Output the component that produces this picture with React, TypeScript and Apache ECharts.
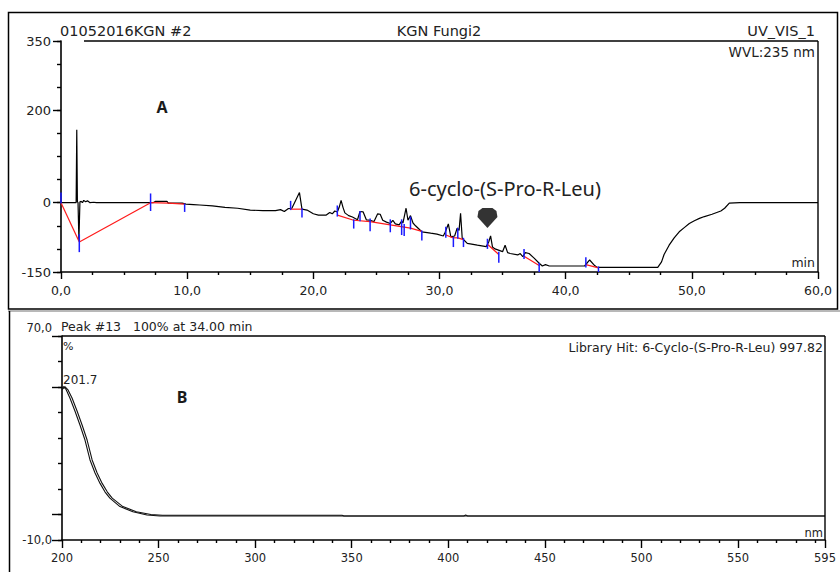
import React, { useEffect, useRef } from 'react';
import * as echarts from 'echarts';

// ---- Panel A: chromatogram (time in min, signal in mAU) ----
const chromatogram: [number, number][] = [
  [0, 0], [1.2, 0], [1.25, 158], [1.3, 2], [1.35, 0], [1.42, -82], [1.5, 2], [1.6, 3], [1.7, 0],
  [1.8, 5], [1.95, 2], [2.1, 4], [2.3, 0], [2.6, 1], [2.8, 0], [7.3, 0], [7.5, 3], [8.4, 3],
  [8.5, -1], [9.6, -1], [9.9, -3], [10.5, -4], [11, -5], [12, -7], [13, -10], [14, -12],
  [15, -16], [16, -17], [17, -17], [17.4, -15], [17.7, -19], [18.0, -13], [18.3, -12],
  [18.9, 22], [19.1, -14], [19.5, -16], [20, -24], [20.4, -27], [21, -27], [21.3, -21],
  [21.5, -24], [21.7, -18], [21.9, -20], [22.05, -10], [22.2, 5], [22.35, -10], [22.5, -22],
  [22.8, -28], [23.1, -31], [23.5, -37], [23.7, -19], [23.95, -20], [24.2, -37], [24.5, -38],
  [24.8, -41], [25.1, -24], [25.3, -25], [25.5, -38], [25.8, -42], [26.1, -45], [26.3, -38],
  [26.5, -46], [26.8, -48], [27.0, -40], [27.1, -44], [27.35, -12], [27.5, -38], [27.7, -28],
  [27.9, -44], [28.1, -50], [28.6, -63], [29.3, -66], [29.8, -68], [30.3, -72], [30.45, -64],
  [30.7, -46], [30.9, -74], [31.2, -72], [31.4, -55], [31.55, -60], [31.67, -23], [31.8, -77],
  [32.2, -88], [33, -92], [33.7, -95], [33.9, -85], [34.05, -72], [34.2, -96], [34.4, -100],
  [35.0, -106], [35.2, -92], [35.4, -108], [35.6, -110], [36.2, -113], [36.4, -110],
  [36.6, -117], [36.8, -108], [37.1, -110], [37.5, -120], [37.9, -131], [38.15, -137],
  [38.4, -134], [38.7, -137], [41.5, -137], [41.9, -124], [42.3, -136], [42.5, -140],
  [47.3, -140], [47.6, -128], [47.8, -112], [48.2, -92], [48.6, -76], [49.0, -63], [49.4, -54],
  [49.8, -45], [50.2, -39], [50.6, -34], [51.0, -30], [51.6, -25], [52.3, -18], [52.6, -12],
  [52.97, -1], [53.8, 0], [60, 0],
];

// integration baselines (red), as polylines of [time, value]
const baselines: [number, number][][] = [
  [[0, 0], [1.45, -85], [7.1, 0]],
  [[7.1, 0], [8.5, -1], [9.8, -3]],
  [[18.2, -14], [19.1, -14]],
  [[21.9, -27], [23.2, -38], [24.5, -41], [26.1, -48], [27.7, -55], [28.6, -62]],
  [[30.5, -70], [31.1, -76], [31.45, -76], [31.9, -80]],
  [[33.8, -90], [34.7, -112]],
  [[36.7, -116], [37.9, -136]],
  [[41.6, -134], [42.6, -141]],
];

// peak start / end delimiters (blue): [time, low, high]
const peakMarks: [number, number, number][] = [
  [0, -2, 22], [1.45, -107, -68], [7.1, -18, 20], [9.8, -20, -2], [18.2, -16, 4],
  [19.1, -32, -12], [21.9, -30, -6], [23.2, -56, -36], [23.7, -40, -18], [24.5, -62, -34],
  [26.1, -64, -36], [27.0, -70, -36], [27.2, -72, -46], [27.7, -58, -30], [28.6, -82, -60],
  [30.5, -76, -52], [31.1, -96, -74], [31.45, -78, -54], [31.9, -96, -76], [33.8, -100, -78],
  [34.7, -130, -106], [36.7, -122, -100], [37.9, -150, -130], [41.6, -140, -118],
  [42.6, -150, -138],
];

const identifiedPeak: [number, number][] = [[33.8, -33]];

const signalLabelTicks = [-150, 0, 200, 350];

// ---- Panel B: UV spectrum (nm, %) ----
const spectrumMeasured: [number, number][] = [
  [200, 49.5], [200.8, 50.1], [202, 49.2], [204.1, 45.7], [206.7, 40.6], [209.3, 35.1],
  [211.9, 29.2], [214.5, 21.4], [217.1, 16.3], [219.7, 12.2], [222.3, 8.8], [224.8, 6.4],
  [230, 3.1], [236.7, 1.1], [244, -0.2], [250.7, -0.6], [300, -0.6], [408, -0.6],
  [409, -0.2], [410, -0.6], [595, -0.6],
];
const spectrumLibrary: [number, number][] = [
  [200, 49], [201.5, 50.1], [203, 49], [205.2, 45.7], [207.8, 40.6], [210.4, 35.1],
  [213, 29.2], [215.6, 21.4], [218.2, 16.3], [220.8, 12.2], [223.5, 8.8], [226, 6.4],
  [231.5, 3.1], [238.5, 1.1], [246, 0], [252, -0.3], [345, -0.3], [346, -0.6], [595, -0.6],
];

const nmMajor = [200, 250, 300, 350, 400, 450, 500, 550, 595];
const nmMinor = [210, 220, 230, 240, 260, 270, 280, 290, 310, 320, 330, 340, 360, 370, 380, 390,
  410, 420, 430, 440, 460, 470, 480, 490, 510, 520, 530, 540, 560, 570, 580, 590];
const pctMajorTicks = [-10, 0, 50, 70];
const pctLabels = [-10, 70];

const FONT = 'DejaVu Sans';
const TXT = '#222';

export default function App() {
  const ref = useRef<HTMLDivElement>(null);
  useEffect(() => {
    if (!ref.current) return;
    const chart = echarts.init(ref.current, null, { renderer: 'svg' });

    const segs: number[][] = [];
    baselines.forEach((pl) => {
      for (let i = 0; i < pl.length - 1; i++) segs.push([pl[i][0], pl[i][1], pl[i + 1][0], pl[i + 1][1]]);
    });

    const axisLineStyle = { color: '#000', width: 1.6 };
    const tickStyle = { color: '#000', width: 1.4 };
    const labelBase = { color: TXT, fontFamily: FONT };

    const option: any = {
      animation: false,
      backgroundColor: '#fff',
      grid: [
        { left: 61, top: 41, width: 757, height: 231 },
        { left: 62, top: 336, width: 763, height: 204 },
      ],
      xAxis: [
        {
          type: 'value', gridIndex: 0, min: 0, max: 60, interval: 10, position: 'bottom',
          axisLine: { show: true, onZero: false, lineStyle: axisLineStyle },
          axisTick: { show: true, length: 7, lineStyle: tickStyle },
          minorTick: { show: true, splitNumber: 4, length: 3, lineStyle: tickStyle },
          axisLabel: { ...labelBase, fontSize: 12.5, margin: 12, formatter: (v: number) => v.toFixed(1).replace('.', ',') },
          splitLine: { show: false },
        },
        {
          type: 'value', gridIndex: 1, min: 200, max: 595, position: 'bottom',
          axisLine: { show: true, onZero: false, lineStyle: axisLineStyle },
          axisTick: { show: true, length: 8, customValues: nmMajor, lineStyle: tickStyle },
          axisLabel: { ...labelBase, fontSize: 11.5, margin: 12, customValues: nmMajor, showMaxLabel: true },
          splitLine: { show: false },
        },
        {
          type: 'value', gridIndex: 1, min: 200, max: 595, position: 'bottom',
          axisLine: { show: false, onZero: false },
          axisTick: { show: true, length: 3, customValues: nmMinor, lineStyle: tickStyle },
          axisLabel: { show: false },
          splitLine: { show: false },
        },
      ],
      yAxis: [
        {
          type: 'value', gridIndex: 0, min: -150, max: 350, position: 'left',
          axisLine: { show: true, onZero: false, lineStyle: axisLineStyle },
          axisTick: { show: true, length: 8, customValues: signalLabelTicks, lineStyle: tickStyle },
          axisLabel: { ...labelBase, fontSize: 13, margin: 10, customValues: signalLabelTicks },
          splitLine: { show: false },
        },
        {
          type: 'value', gridIndex: 0, min: -150, max: 350, interval: 50, position: 'left',
          axisLine: { show: false, onZero: false },
          axisTick: { show: true, length: 4, lineStyle: tickStyle },
          axisLabel: { show: false },
          splitLine: { show: false },
        },
        {
          type: 'value', gridIndex: 1, min: -10, max: 70, position: 'left',
          axisLine: { show: true, onZero: false, lineStyle: axisLineStyle },
          axisTick: { show: true, length: 10, customValues: pctMajorTicks, lineStyle: tickStyle },
          axisLabel: {
            ...labelBase, fontSize: 11.5, margin: 10, customValues: pctLabels,
            formatter: (v: number) => (v === 70 ? '{up|70,0}' : v.toFixed(1).replace('.', ',')),
            rich: { up: { fontSize: 11.5, fontFamily: FONT, color: TXT, padding: [0, 0, 16, 0] } },
          },
          splitLine: { show: false },
        },
        {
          type: 'value', gridIndex: 1, min: -10, max: 70, interval: 10, position: 'left',
          axisLine: { show: false, onZero: false },
          axisTick: { show: true, length: 4, lineStyle: tickStyle },
          axisLabel: { show: false },
          splitLine: { show: false },
        },
      ],
      series: [
        {
          type: 'line', xAxisIndex: 0, yAxisIndex: 0, data: chromatogram, showSymbol: false,
          lineStyle: { color: '#000', width: 1.2 }, z: 3, silent: true,
        },
        {
          type: 'custom', xAxisIndex: 0, yAxisIndex: 0, data: segs, z: 4, silent: true,
          encode: { x: [0, 2], y: [1, 3] },
          renderItem: (_p: any, api: any) => {
            const a = api.coord([api.value(0), api.value(1)]);
            const b = api.coord([api.value(2), api.value(3)]);
            return { type: 'line', shape: { x1: a[0], y1: a[1], x2: b[0], y2: b[1] }, style: { stroke: '#ff1a1a', lineWidth: 1.2 } };
          },
        },
        {
          type: 'custom', xAxisIndex: 0, yAxisIndex: 0, data: peakMarks, z: 5, silent: true,
          encode: { x: 0, y: [1, 2] },
          renderItem: (_p: any, api: any) => {
            const a = api.coord([api.value(0), api.value(1)]);
            const b = api.coord([api.value(0), api.value(2)]);
            return { type: 'line', shape: { x1: a[0], y1: a[1], x2: b[0], y2: b[1] }, style: { stroke: '#1a1aff', lineWidth: 1.5 } };
          },
        },
        {
          type: 'scatter', xAxisIndex: 0, yAxisIndex: 0, data: identifiedPeak, z: 6, silent: true,
          symbol: 'path://M-5,-10L5,-10L9,-7L10,-1L0,10L-10,-1L-9,-7Z',
          symbolSize: [20, 20], itemStyle: { color: '#000' },
        },
        {
          type: 'line', xAxisIndex: 1, yAxisIndex: 2, data: spectrumMeasured, showSymbol: false,
          lineStyle: { color: '#111', width: 1.1 }, z: 3, silent: true,
        },
        {
          type: 'line', xAxisIndex: 1, yAxisIndex: 2, data: spectrumLibrary, showSymbol: false,
          lineStyle: { color: '#111', width: 1.1 }, z: 3, silent: true,
        },
      ],
      graphic: [
        // panel borders
        { type: 'rect', shape: { x: 8.5, y: 12.5, width: 829, height: 296.5 }, style: { fill: 'none', stroke: '#000', lineWidth: 1.5 }, z: 10 },
        { type: 'line', shape: { x1: 8, y1: 311, x2: 840, y2: 311 }, style: { stroke: '#a0a0a0', lineWidth: 1.5 }, z: 10 },
        { type: 'line', shape: { x1: 9.5, y1: 311, x2: 9.5, y2: 572 }, style: { stroke: '#000', lineWidth: 1.5 }, z: 10 },
        // plot frames
        { type: 'line', shape: { x1: 84, y1: 41, x2: 818, y2: 41 }, style: { stroke: '#000', lineWidth: 1.4 }, z: 10 },
        { type: 'line', shape: { x1: 818, y1: 41, x2: 818, y2: 272 }, style: { stroke: '#000', lineWidth: 1.4 }, z: 10 },
        { type: 'line', shape: { x1: 62, y1: 336, x2: 825, y2: 336 }, style: { stroke: '#000', lineWidth: 1.4 }, z: 10 },
        { type: 'line', shape: { x1: 825, y1: 336, x2: 825, y2: 540 }, style: { stroke: '#000', lineWidth: 1.4 }, z: 10 },
        // headers panel A
        { type: 'text', x: 60, y: 31, z: 10, style: { text: '01052016KGN #2', fontSize: 14.5, fontFamily: FONT, fill: TXT, align: 'left', verticalAlign: 'middle' } },
        { type: 'text', x: 439, y: 31, z: 10, style: { text: 'KGN Fungi2', fontSize: 14.5, fontFamily: FONT, fill: TXT, align: 'center', verticalAlign: 'middle' } },
        { type: 'text', x: 815, y: 31, z: 10, style: { text: 'UV_VIS_1', fontSize: 14.5, fontFamily: FONT, fill: TXT, align: 'right', verticalAlign: 'middle' } },
        { type: 'text', x: 815, y: 52, z: 10, style: { text: 'WVL:235 nm', fontSize: 13.5, fontFamily: FONT, fill: TXT, align: 'right', verticalAlign: 'middle' } },
        { type: 'text', x: 815, y: 262, z: 10, style: { text: 'min', fontSize: 12.5, fontFamily: FONT, fill: TXT, align: 'right', verticalAlign: 'middle' } },
        { type: 'text', x: 162, y: 107, z: 10, style: { text: 'A', fontSize: 16, fontWeight: 'bold', fontFamily: 'Noto Sans', fill: '#1a1a1a', align: 'center', verticalAlign: 'middle' } },
        { type: 'text', x: 505, y: 188, z: 10, style: { text: '6-cyclo-(S-Pro-R-Leu)', fontSize: 20, fontFamily: 'Noto Sans', fill: '#222', align: 'center', verticalAlign: 'middle' } },
        // headers panel B
        { type: 'text', x: 61, y: 326, z: 10, style: { text: 'Peak #13   100% at 34.00 min', fontSize: 12.5, fontFamily: FONT, fill: TXT, align: 'left', verticalAlign: 'middle' } },
        { type: 'text', x: 823, y: 347, z: 10, style: { text: 'Library Hit: 6-Cyclo-(S-Pro-R-Leu) 997.82', fontSize: 12.5, fontFamily: FONT, fill: TXT, align: 'right', verticalAlign: 'middle' } },
        { type: 'text', x: 63, y: 346, z: 10, style: { text: '%', fontSize: 11, fontFamily: FONT, fill: TXT, align: 'left', verticalAlign: 'middle' } },
        { type: 'text', x: 63, y: 380, z: 10, style: { text: '201.7', fontSize: 12, fontFamily: FONT, fill: TXT, align: 'left', verticalAlign: 'middle' } },
        { type: 'text', x: 182, y: 397, z: 10, style: { text: 'B', fontSize: 16, fontWeight: 'bold', fontFamily: 'Noto Sans', fill: '#1a1a1a', align: 'center', verticalAlign: 'middle' } },
        { type: 'text', x: 823, y: 533, z: 10, style: { text: 'nm', fontSize: 11.5, fontFamily: FONT, fill: TXT, align: 'right', verticalAlign: 'middle' } },
      ],
    };
    chart.setOption(option);
    return () => chart.dispose();
  }, []);
  return (
    <div
      ref={ref}
      style={{ position: 'fixed', left: 0, top: 0, width: 840, height: 572, background: '#fff' }}
    />
  );
}
